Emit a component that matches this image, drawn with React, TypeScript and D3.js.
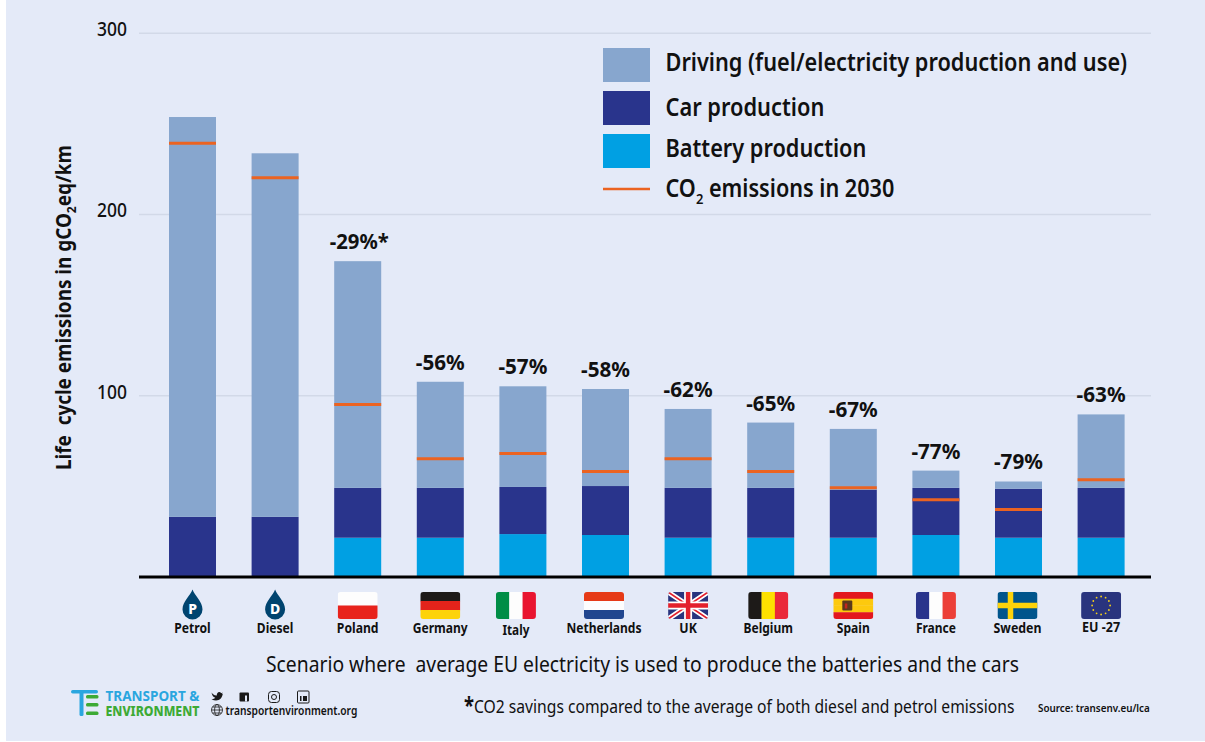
import React, { useEffect, useRef } from "react";
import * as d3 from "d3";

const countries = ["Petrol", "Diesel", "Poland", "Germany", "Italy", "Netherlands", "UK", "Belgium", "Spain", "France", "Sweden", "EU -27"];
const battery = [0, 0, 21.5, 21.5, 23.5, 23, 21.5, 21.5, 21.5, 23, 21.5, 21.5];
const carProduction = [33, 33, 27.5, 27.5, 26, 27, 27.5, 27.5, 26.5, 26, 27, 27.5];
const driving = [220.5, 200.5, 125, 58.5, 55.5, 53.5, 43.5, 36, 33.5, 9.5, 4, 40.5];
const co2In2030 = [239, 220, 95, 65, 68, 58, 65, 58, 49, 42.5, 37, 53.5];
const savings = ["", "", "-29%*", "-56%", "-57%", "-58%", "-62%", "-65%", "-67%", "-77%", "-79%", "-63%"];
const yTicks = [100, 200, 300];

const legendItems = ["Driving (fuel/electricity production and use)", "Car production", "Battery production"];

const BG = "#e4eaf8";
const LIGHT = "#87a6ce";
const NAVY = "#29348c";
const CYAN = "#00a0e3";
const ORANGE = "#eb6321";
const INK = "#111";
const FONT = "'Noto Sans', sans-serif";

// the original typeface is narrower than anything installed, so text gets squeezed to the measured width
const fitTo = (sel: any, w: number) => {
  const node = sel.node() as SVGTextElement;
  const k = w / node.getComputedTextLength();
  const px = +(sel.attr("x") || 0);
  const before = sel.attr("transform") || "";
  sel.attr("transform", `${before} translate(${px},0) scale(${k},1) translate(${-px},0)`);
  return sel;
};

// small x nudges for the icon + name under each bar, they don't sit exactly under the bars in the original
const iconNudge: Record<string, number> = {
  Italy: -7,
  Netherlands: -1.5,
  Belgium: -2.5,
  Sweden: -1,
};
const nameWidth: Record<string, number> = {
  Petrol: 36.5,
  Diesel: 36.5,
  Poland: 41.7,
  Germany: 55,
  Italy: 27,
  Netherlands: 75,
  UK: 17.5,
  Belgium: 49.4,
  Spain: 33,
  France: 40,
  Sweden: 48,
  "EU -27": 38,
};

const App: React.FC = () => {
  const ref = useRef<SVGSVGElement>(null);

  useEffect(() => {
    const svg = d3.select(ref.current);
    svg.selectAll("*").remove();

    svg.append("rect").attr("width", 1205).attr("height", 742).attr("fill", "#fff");
    svg.append("rect").attr("x", 6).attr("width", 1199).attr("height", 741).attr("fill", BG);

    const x = d3.scaleBand().domain(countries).range([151.2, 1142.4]).paddingInner(0.431).paddingOuter(0.2155);
    const y = d3.scaleLinear().domain([0, 300]).range([576.7, 32.7]);

    // grid and y axis
    const axis = svg
      .append("g")
      .attr("transform", "translate(139,0)")
      .call(d3.axisLeft(y).tickValues(yTicks).tickSize(-1012).tickPadding(12).tickFormat(d3.format("d")) as any);
    axis.select(".domain").remove();
    axis.selectAll("line").attr("stroke", "#d2d9e8").attr("stroke-width", 1.5);
    axis
      .selectAll("text")
      .attr("font-family", FONT)
      .attr("font-size", 19)
      .attr("font-weight", 500)
      .attr("fill", INK)
      .attr("dy", "0.14em")
      .each(function (this: any) {
        fitTo(d3.select(this), 30);
      });

    // stacked bars
    const rows = countries.map((c, i) => ({
      country: c,
      battery: battery[i],
      car: carProduction[i],
      driving: driving[i],
    }));
    const stacked = d3.stack<any>().keys(["battery", "car", "driving"])(rows);
    const color = d3.scaleOrdinal<string>().domain(["battery", "car", "driving"]).range([CYAN, NAVY, LIGHT]);

    svg
      .append("g")
      .selectAll("g")
      .data(stacked)
      .join("g")
      .attr("fill", (d: any) => color(d.key))
      .selectAll("rect")
      .data((d: any) => d)
      .join("rect")
      .attr("x", (d: any) => x(d.data.country) as number)
      .attr("y", (d: any) => y(d[1]))
      .attr("width", x.bandwidth())
      .attr("height", (d: any) => y(d[0]) - y(d[1]));

    // 2030 markers
    svg
      .append("g")
      .selectAll("line")
      .data(countries)
      .join("line")
      .attr("x1", (d) => x(d) as number)
      .attr("x2", (d) => (x(d) as number) + x.bandwidth())
      .attr("y1", (_, i) => y(co2In2030[i]))
      .attr("y2", (_, i) => y(co2In2030[i]))
      .attr("stroke", ORANGE)
      .attr("stroke-width", 3);

    // baseline
    svg.append("line").attr("x1", 139).attr("x2", 1151).attr("y1", 577).attr("y2", 577).attr("stroke", "#000").attr("stroke-width", 3);

    // savings labels
    countries.forEach((c, i) => {
      if (!savings[i]) return;
      const label = svg
        .append("text")
        .attr("x", (x(c) as number) + x.bandwidth() / 2 + (i === 2 ? 1.5 : 0))
        .attr("y", y(battery[i] + carProduction[i] + driving[i]) - 12)
        .attr("text-anchor", "middle")
        .attr("font-family", FONT)
        .attr("font-size", 20.5)
        .attr("font-weight", 700)
        .attr("fill", INK)
        .text(savings[i]);
      fitTo(label, savings[i].length > 4 ? 59 : 49);
    });

    // y title
    const yTitle = svg
      .append("text")
      .attr("transform", "translate(71,307.5) rotate(-90)")
      .attr("text-anchor", "middle")
      .attr("font-family", FONT)
      .attr("font-size", 20.5)
      .attr("font-weight", 700)
      .attr("fill", INK)
      .style("white-space", "pre");
    yTitle.append("tspan").text("Life  cycle emissions in gCO");
    yTitle.append("tspan").attr("font-size", 13).attr("dy", 5).text("2");
    yTitle.append("tspan").attr("dy", -5).text("eq/km");
    fitTo(yTitle, 325);

    // legend
    const legendY = [48, 91, 134];
    const legendFill = [LIGHT, NAVY, CYAN];
    const legendBase = [71, 116, 157];
    const legendW = [462, 159, 201];
    legendItems.forEach((t, i) => {
      svg.append("rect").attr("x", 603).attr("y", legendY[i]).attr("width", 47).attr("height", 34).attr("fill", legendFill[i]);
      const label = svg
        .append("text")
        .attr("x", 665.5)
        .attr("y", legendBase[i])
        .attr("font-family", FONT)
        .attr("font-size", 25)
        .attr("font-weight", 600)
        .attr("fill", INK)
        .text(t);
      fitTo(label, legendW[i]);
    });
    svg.append("line").attr("x1", 603).attr("x2", 650).attr("y1", 189).attr("y2", 189).attr("stroke", ORANGE).attr("stroke-width", 2.5);
    const co2 = svg
      .append("text")
      .attr("x", 665.5)
      .attr("y", 197)
      .attr("font-family", FONT)
      .attr("font-size", 25)
      .attr("font-weight", 600)
      .attr("fill", INK);
    co2.append("tspan").text("CO");
    co2.append("tspan").attr("font-size", 15).attr("dy", 7).text("2");
    co2.append("tspan").attr("dy", -7).text(" emissions in 2030");
    fitTo(co2, 229);

    // icons and names under the bars
    const defs = svg.append("defs");
    defs
      .append("clipPath")
      .attr("id", "flagClip")
      .append("rect")
      .attr("x", -20)
      .attr("y", -13.5)
      .attr("width", 40)
      .attr("height", 27)
      .attr("rx", 3);

    const stripesH = (g: any, cols: string[]) =>
      cols.forEach((c, i) =>
        g.append("rect").attr("x", -20).attr("y", -13.5 + (i * 27) / cols.length).attr("width", 40).attr("height", 27 / cols.length + 0.3).attr("fill", c)
      );
    const stripesV = (g: any, cols: string[]) =>
      cols.forEach((c, i) =>
        g.append("rect").attr("x", -20 + (i * 40) / cols.length).attr("y", -13.5).attr("width", 40 / cols.length + 0.3).attr("height", 27).attr("fill", c)
      );
    const drop = (g: any, letter: string) => {
      g.append("path").attr("d", "M0,-16 C2,-10 10,-4 10,4 A10,10 0 0 1 -10,4 C-10,-4 -2,-10 0,-16 Z").attr("fill", "#00446f");
      g.append("text")
        .attr("y", 8)
        .attr("text-anchor", "middle")
        .attr("font-family", FONT)
        .attr("font-size", 14)
        .attr("font-weight", 800)
        .attr("fill", "#fff")
        .text(letter);
    };

    const painters: Record<string, (g: any) => void> = {
      Petrol: (g) => drop(g, "P"),
      Diesel: (g) => drop(g, "D"),
      Poland: (g) => stripesH(g, ["#fdfdfd", "#e8231c"]),
      Germany: (g) => stripesH(g, ["#1d1a18", "#e3231b", "#fdd30a"]),
      Italy: (g) => stripesV(g, ["#008d46", "#fdfdfd", "#e91530"]),
      Netherlands: (g) => stripesH(g, ["#e63a17", "#fdfdfd", "#21468f"]),
      UK: (g) => {
        g.append("rect").attr("x", -20).attr("y", -13.5).attr("width", 40).attr("height", 27).attr("fill", "#29347e");
        g.append("path").attr("d", "M-20,-13.5L20,13.5M20,-13.5L-20,13.5").attr("stroke", "#fff").attr("stroke-width", 5);
        g.append("path").attr("d", "M-20,-13.5L20,13.5M20,-13.5L-20,13.5").attr("stroke", "#e3202c").attr("stroke-width", 1.6);
        g.append("path").attr("d", "M0,-13.5V13.5M-20,0H20").attr("stroke", "#fff").attr("stroke-width", 8);
        g.append("path").attr("d", "M0,-13.5V13.5M-20,0H20").attr("stroke", "#e3202c").attr("stroke-width", 4.5);
      },
      Belgium: (g) => stripesV(g, ["#1d1a18", "#fde100", "#ea2839"]),
      Spain: (g) => {
        stripesH(g, ["#e3171e", "#fdc90e", "#fdc90e", "#e3171e"]);
        g.append("rect").attr("x", -11).attr("y", -5).attr("width", 10).attr("height", 10).attr("rx", 1).attr("fill", "#5a3a1c");
        g.append("rect").attr("x", -8.5).attr("y", -2).attr("width", 2.5).attr("height", 5).attr("fill", "#c4281c");
      },
      France: (g) => stripesV(g, ["#29348c", "#fdfdfd", "#ec3f38"]),
      Sweden: (g) => {
        g.append("rect").attr("x", -20).attr("y", -13.5).attr("width", 40).attr("height", 27).attr("fill", "#00558c");
        g.append("path").attr("d", "M-7,-13.5V13.5M-20,0H20").attr("stroke", "#fdd30a").attr("stroke-width", 5.5);
      },
      "EU -27": (g) => {
        g.append("rect").attr("x", -20).attr("y", -13.5).attr("width", 40).attr("height", 27).attr("fill", "#29347e");
        g.selectAll("circle")
          .data(d3.range(12))
          .join("circle")
          .attr("cx", (d: number) => 9 * Math.cos((d * Math.PI) / 6))
          .attr("cy", (d: number) => 9 * Math.sin((d * Math.PI) / 6))
          .attr("r", 0.9)
          .attr("fill", "#f7d117");
      },
    };

    countries.forEach((c) => {
      const cx = (x(c) as number) + x.bandwidth() / 2 + (iconNudge[c] || 0);
      const isDrop = c === "Petrol" || c === "Diesel";
      const g = svg.append("g").attr("transform", `translate(${cx},605.5)`);
      const inner = isDrop ? g : g.append("g").attr("clip-path", "url(#flagClip)");
      painters[c](inner);
      const name = svg
        .append("text")
        .attr("x", cx)
        .attr("y", c === "Italy" ? 635 : c === "EU -27" ? 632 : 633)
        .attr("text-anchor", "middle")
        .attr("font-family", FONT)
        .attr("font-size", 13.5)
        .attr("font-weight", 700)
        .attr("fill", INK)
        .text(c);
      fitTo(name, nameWidth[c]);
    });

    // footer text
    const foot = (t: string, px: number, py: number, size: number, weight: number, w: number, fill = INK) =>
      fitTo(
        svg
          .append("text")
          .attr("x", px)
          .attr("y", py)
          .attr("font-family", FONT)
          .attr("font-size", size)
          .attr("font-weight", weight)
          .attr("fill", fill)
          .style("white-space", "pre")
          .text(t),
        w
      );

    foot("Scenario where  average EU electricity is used to produce the batteries and the cars", 266, 672, 22, 400, 753);
    foot("*", 464, 714, 24, 700, 10);
    foot("CO2 savings compared to the average of both diesel and petrol emissions", 474, 713, 18.5, 400, 541);
    foot("Source: transenv.eu/lca", 1038, 712.5, 11.5, 600, 112);
    foot("TRANSPORT &", 105.5, 701, 14.5, 700, 94, "#2aa6df");
    foot("ENVIRONMENT", 105.5, 716, 14.5, 800, 94, "#3daa35");
    foot("transportenvironment.org", 225.5, 715, 12.5, 600, 132);

    // T&E logo
    const logo = svg.append("g");
    logo.append("rect").attr("x", 71).attr("y", 690).attr("width", 27).attr("height", 3.5).attr("rx", 1.7).attr("fill", "#2aa6df");
    logo.append("rect").attr("x", 79.5).attr("y", 692).attr("width", 4).attr("height", 24).attr("rx", 1.5).attr("fill", "#2aa6df");
    [695, 703, 711.5].forEach((ly) =>
      logo.append("rect").attr("x", 86).attr("y", ly).attr("width", 12.5).attr("height", 3.5).attr("rx", 1.5).attr("fill", "#3daa35")
    );

    // social icons
    const social = svg.append("g").attr("fill", "#1a1a1a");
    social
      .append("path")
      .attr("transform", "translate(211.5,692.5) scale(0.75) translate(-211,-693)")
      .attr("d", "M211,693 C214,697 217,697 218,697 C218,692 222,691 224,694 L226,693 L225,695 L226,695 C225,702 219,706 211,702 C214,702 215,701 216,700 C213,699 212,697 211,693 Z");
    social.append("rect").attr("x", 239.5).attr("y", 692.5).attr("width", 9.5).attr("height", 9).attr("rx", 1);
    social.append("rect").attr("x", 245).attr("y", 695.5).attr("width", 2).attr("height", 6).attr("fill", BG);
    social.append("rect").attr("x", 268.5).attr("y", 691.5).attr("width", 11).attr("height", 11).attr("rx", 3).attr("fill", "none").attr("stroke", "#1a1a1a");
    social.append("circle").attr("cx", 274).attr("cy", 697).attr("r", 2.5).attr("fill", "none").attr("stroke", "#1a1a1a");
    social.append("rect").attr("x", 297.5).attr("y", 691).attr("width", 11.5).attr("height", 12).attr("rx", 1).attr("fill", "none").attr("stroke", "#1a1a1a");
    social.append("rect").attr("x", 300).attr("y", 696).attr("width", 1.5).attr("height", 5);
    social.append("rect").attr("x", 303).attr("y", 696).attr("width", 4).attr("height", 5);
    const globe = svg.append("g").attr("fill", "none").attr("stroke", "#1a1a1a").attr("stroke-width", 0.8);
    globe.append("circle").attr("cx", 217).attr("cy", 710).attr("r", 5.5);
    globe.append("ellipse").attr("cx", 217).attr("cy", 710).attr("rx", 2.4).attr("ry", 5.5);
    globe.append("path").attr("d", "M211.5,710H222.5M212.5,707H221.5M212.5,713H221.5");
  }, []);

  return (
    <svg
      ref={ref}
      width={1205}
      height={742}
      style={{ position: "absolute", left: 0, top: 0, display: "block" }}
    />
  );
};

export default App;
